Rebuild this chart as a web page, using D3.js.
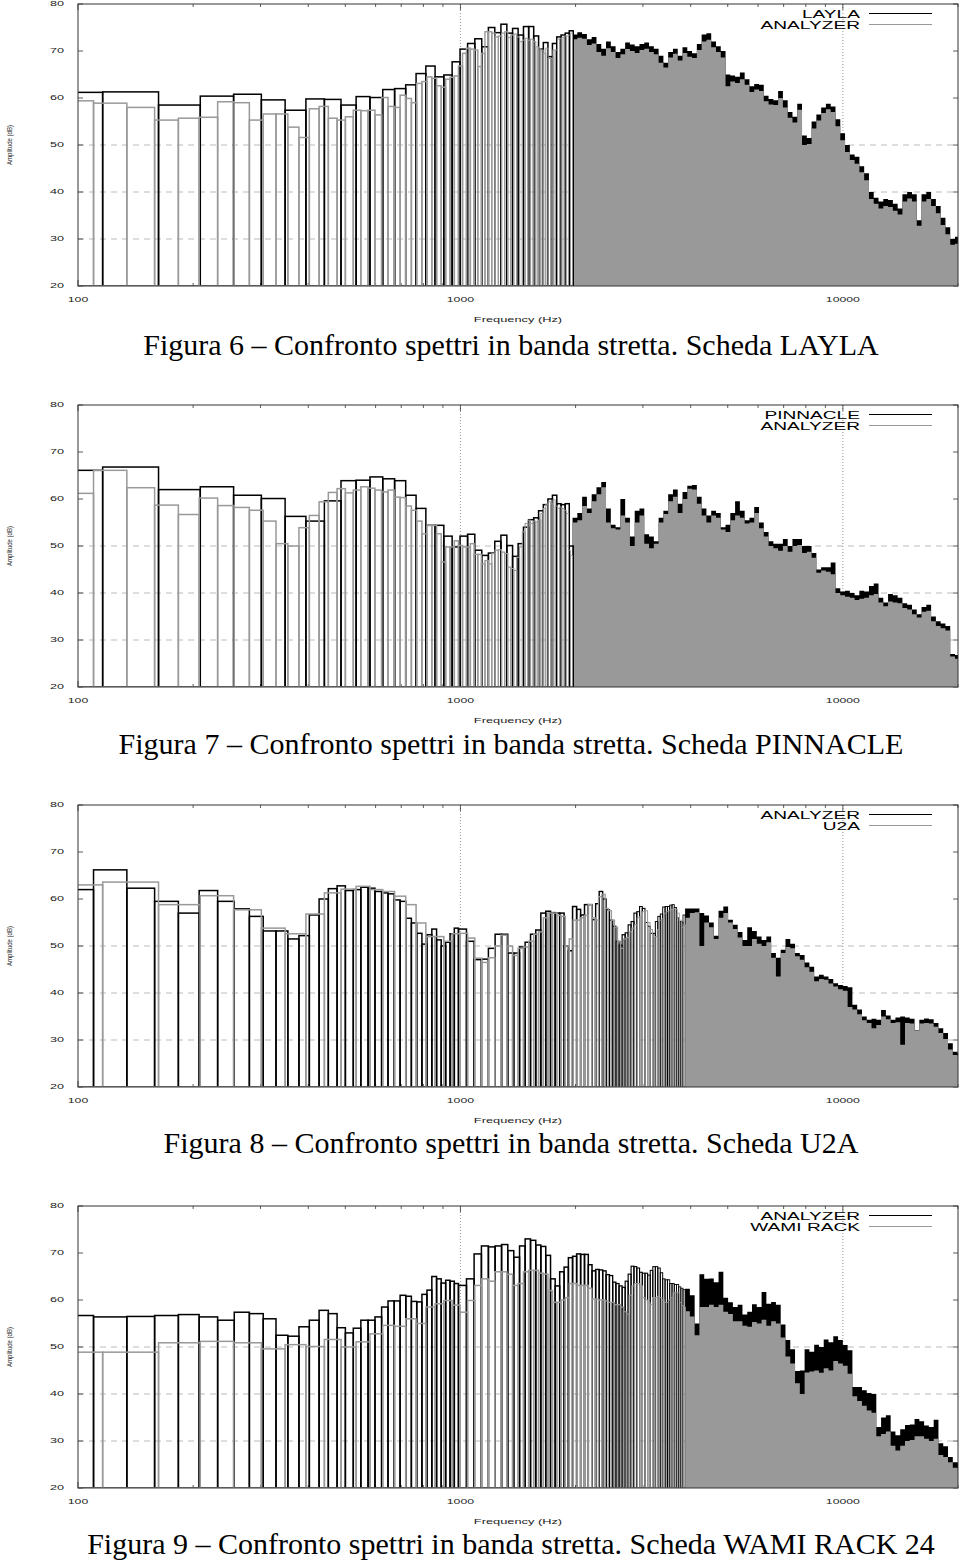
<!DOCTYPE html>
<html>
<head>
<meta charset="utf-8">
<script src="https://cdnjs.cloudflare.com/ajax/libs/d3/7.8.5/d3.min.js"></script>
<style>
body { margin: 0; background: #fff; }
svg { display: block; }
</style>
</head>
<body>
<svg id="chart" width="960" height="1564"></svg>
<script>
// ---------- axes / labels
var FREQ_DOMAIN = [100, 20000];
var DB_DOMAIN = [20, 80];
var FREQ_LABELS = [100, 1000, 10000];
var DB_LABELS = [20, 30, 40, 50, 60, 70, 80];
var DB_GRID = [30, 40, 50];
var FREQ_GRID = [1000, 10000];

var CAPTIONS = [
  "Figura 6 \u2013 Confronto spettri in banda stretta. Scheda LAYLA",
  "Figura 7 \u2013 Confronto spettri in banda stretta. Scheda PINNACLE",
  "Figura 8 \u2013 Confronto spettri in banda stretta. Scheda U2A",
  "Figura 9 \u2013 Confronto spettri in banda stretta. Scheda WAMI RACK 24"
];
var LEGENDS = [
  ["LAYLA", "ANALYZER"],
  ["PINNACLE", "ANALYZER"],
  ["ANALYZER", "U2A"],
  ["ANALYZER", "WAMI RACK"]
];

// ---------- frequency grids (Hz)
var CARD_F0 = 69.6, CARD_BIN = 46.4;     // sound card FFT boxes
var ANA_F0 = 85.4, ANA_BIN = 24.4;       // analyzer boxes
var ANA_F1 = 988.2, ANA_BIN1 = 48.8;     // analyzer boxes above 1 kHz (fig 8, 9)
var HI_A = 1964.2, HI_B = 3867.4;        // start of the dense band
var HI_STEP = 0.0125;                    // decades per dense sample

// ---------- Figura 6 (LAYLA black, ANALYZER gray), dB
var layla_lo = [61.2,61.3,58.5,60.4,60.8,59.6,57.4,59.8,59.7,58.5,60.3,60.1,61.8,62.0,62.8,65.2,66.8,64.5,64.9,67.7,
  70.4,71.6,72.6,70.9,75.0,73.9,75.7,73.8,74.8,73.4,75.2,75.2,73.2,70.4,71.8,68.8,71.6,73.0,73.4,73.8,74.3];
var ana6_lo = [59.4,58.9,58.0,55.3,55.7,55.9,59.2,59.0,55.3,56.6,56.6,53.8,51.6,57.7,58.2,
  55.7,55.3,56.0,57.4,57.3,57.4,56.4,60.1,58.2,58.0,60.6,59.9,59.0,63.1,63.5,64.5,64.2,62.6,62.3,64.0,64.4,64.7,
  66.8,69.5,70.6,70.4,70.2,66.7,69.5,74.1,74.1,73.8,73.0,73.2,73.8,74.1,72.9,73.4,73.6,73.0,72.0,72.3,72.7,72.3,
  72.5,72.0,70.9,70.4,70.2,69.5,70.6,68.4,68.4,70.2,70.2,72.5,72.7,72.9,73.2,73.2,73.4,73.8];
var layla_hi = [73.5,74.0,73.6,72.5,73.0,71.5,70.5,72.0,71.0,69.8,
  70.5,71.8,71.4,71.0,71.5,71.8,71.0,70.5,69.0,67.5,
  69.8,70.5,69.0,70.8,70.0,69.5,71.5,73.5,73.8,72.0,
  71.0,70.0,65.0,64.8,64.5,65.4,64.0,62.5,63.0,62.8,
  60.5,59.8,59.5,61.5,59.5,57.0,56.0,58.8,52.0,51.5,
  55.0,56.5,58.0,58.8,58.2,55.5,52.5,50.0,48.0,47.5,
  45.5,44.0,40.0,38.8,38.0,38.5,38.3,37.5,36.5,39.5,
  40.0,39.5,34.0,39.5,40.0,38.5,37.0,34.5,32.5,30.0,30.5];
var ana6_hi = [72.5,72.8,72.6,71.3,71.6,69.8,69.0,70.6,69.8,68.5,
  69.3,70.4,70.0,69.6,70.2,70.5,69.8,69.3,67.5,66.5,
  68.6,69.4,68.0,69.6,68.8,68.5,70.2,72.0,72.4,70.8,
  69.8,68.6,62.5,63.5,63.2,64.0,62.8,61.3,61.8,61.5,
  59.3,58.6,58.5,60.0,58.0,55.8,54.8,57.5,50.0,50.2,
  53.5,55.2,56.8,57.6,57.0,54.0,51.0,48.5,46.8,46.0,
  44.2,42.5,38.5,37.5,36.5,37.0,36.8,36.0,35.2,38.0,
  38.6,38.0,32.8,38.0,38.5,37.0,35.5,33.0,31.0,28.8,29.0];

// ---------- Figura 7 (PINNACLE black, ANALYZER gray)
var pinnacle_lo = [66.1,66.8,62.0,62.6,60.8,60.1,56.3,55.3,59.6,63.9,64.0,64.7,64.3,63.9,60.8,58.0,54.4,54.4,52.1,49.8,
  52.1,52.5,49.1,48.0,48.5,51.0,52.3,50.1,47.8,50.5,54.0,55.6,56.0,57.5,58.8,60.0,60.8,59.0,58.8,59.0,50.0];
var ana7_lo = [61.2,66.1,62.4,58.7,56.7,60.2,58.6,58.2,57.6,55.3,50.5,50.0,53.9,56.5,59.4,61.4,62.2,61.3,61.9,62.6,
  62.3,61.9,61.5,61.9,60.4,60.3,58.5,57.6,55.3,52.6,54.4,54.4,52.6,46.6,49.8,49.8,51.1,50.1,49.8,49.8,
  50.5,48.2,48.2,46.2,46.9,46.2,48.4,49.1,49.2,48.7,48.4,45.5,45.2,44.8,47.6,49.8,53.0,54.8,55.5,54.8,
  55.3,55.1,55.5,56.9,58.0,58.9,59.4,59.0,59.8,58.5,58.0,58.3,58.0,57.6,56.9,49.1,48.0];
var pinnacle_hi = [56.0,57.0,60.5,58.0,61.0,62.5,63.6,58.0,54.5,54.0,
  60.0,56.0,52.0,57.5,58.0,52.5,52.0,51.0,56.0,57.5,
  61.0,62.0,59.0,61.5,62.8,63.0,60.5,58.0,56.5,57.5,
  57.0,54.0,54.5,57.0,59.5,57.5,55.5,56.0,58.3,55.0,
  53.0,51.0,50.5,50.5,51.5,50.0,51.5,51.5,50.0,50.0,
  48.5,45.0,45.5,45.5,46.5,41.0,40.3,40.5,40.0,39.5,
  40.5,40.3,41.5,42.0,39.0,38.0,39.8,39.5,39.0,37.8,
  37.5,36.5,35.5,37.0,37.5,35.0,34.0,33.5,33.0,27.0,26.8];
var ana7_hi = [55.0,55.5,58.5,57.0,59.5,61.0,62.5,55.0,53.8,53.5,
  56.5,55.0,50.0,55.0,56.5,50.5,49.5,50.5,55.0,56.8,
  59.5,60.5,57.0,60.0,62.2,62.0,59.0,56.5,55.0,56.5,
  56.0,53.5,53.0,55.5,56.5,56.0,54.8,55.0,57.0,53.8,
  52.0,50.0,49.5,49.0,50.0,48.8,50.0,50.2,48.5,48.8,
  47.5,44.3,44.8,44.5,44.0,40.0,39.5,39.2,39.0,38.5,
  38.8,39.0,39.5,39.8,38.0,37.2,38.2,38.0,37.8,36.8,
  36.5,35.5,34.8,36.0,36.2,34.0,33.0,32.5,32.0,26.5,26.0];

// ---------- Figura 8 (ANALYZER black, U2A gray)
var ana8_lo = [62.0,66.2,62.3,59.5,57.0,61.8,59.5,57.9,56.3,53.2,53.2,51.5,52.2,56.6,60.0,62.2,62.8,61.8,62.0,62.5,
  62.3,61.6,61.3,61.1,59.8,59.5,55.9,54.9,52.7,50.4,52.4,53.6,51.3,50.0,50.8,52.6,53.8];
var ana8_mid = [53.6,51.0,47.1,47.2,49.5,52.5,52.5,48.5,48.5,49.8,50.8,52.5,53.4,57.0,57.4,57.1,57.0,57.0,50.0,49.0,
  58.4,57.8,56.6,58.8,58.8,55.6,59.0,61.6,60.0,57.7,55.5,54.2,51.0,50.2,52.4,52.8,54.5,55.2,57.0,57.3,
  58.4,58.0,55.0,54.2,52.7,52.7,55.2,56.3,56.8,58.3,58.4,58.4,58.7,58.8,58.2,56.0,55.2,55.1,56.6];
var u2a_lo = [63.0,63.6,58.8,60.7,57.7,53.8,52.6,56.8,61.3,62.1,62.7,62.0,61.6,60.6,58.8,54.9,52.0,52.0,51.0,52.6,
  52.7,51.7,47.4,46.5,47.5,50.0,52.3,50.0,48.0,49.5,49.8,51.0,52.5,53.0,56.0,57.0,57.0,56.5,56.3,50.0,
  51.5,55.5,55.5,56.0,56.5,58.8,56.0,55.5,60.5,61.0,58.0,57.5,55.5,54.0,51.0,49.5,51.5,51.8,53.0,53.8,
  54.5,56.0,56.3,57.3,57.5,55.0,53.5,52.0,52.0,53.5,55.5,55.8,57.0,57.3,57.5,57.8,58.0,57.8,57.0,55.5,
  54.0,54.5];
var ana8_hi = [58.0,58.0,58.0,57.0,56.5,55.0,52.2,57.5,58.4,55.6,
  54.5,53.0,51.3,54.0,53.2,52.0,51.3,52.0,48.5,47.5,
  49.2,51.5,50.5,48.5,48.1,46.5,45.6,43.5,43.9,43.5,
  43.0,42.1,41.7,41.5,41.2,37.5,36.5,35.0,34.3,34.5,
  34.3,36.4,35.2,34.3,34.8,35.0,34.8,34.5,32.1,34.3,
  34.6,34.4,33.6,32.5,31.5,29.3,27.5,27.2];
var u2a_hi = [56.0,57.0,57.2,50.0,55.0,54.0,51.5,56.0,57.0,55.0,
  53.6,51.8,50.0,50.0,51.5,50.5,50.0,50.8,47.5,43.5,
  48.5,49.8,49.5,47.8,47.1,45.5,44.5,42.5,43.0,42.8,
  42.0,41.4,40.8,40.5,37.0,36.5,35.5,34.2,33.6,32.5,
  33.2,35.0,34.4,33.6,33.8,29.0,33.6,33.5,32.0,33.5,
  33.6,33.5,32.8,31.5,30.2,28.0,26.8,26.5];

// ---------- Figura 9 (ANALYZER black, WAMI RACK gray)
var ana9_lo = [56.7,56.4,56.5,56.7,56.9,56.4,55.7,57.4,57.1,56.0,52.5,52.3,54.3,55.7,57.8,57.1,54.1,53.0,54.0,55.7,
  55.7,56.4,58.5,59.8,59.8,61.0,60.8,59.7,59.6,61.2,62.1,65.0,64.5,63.6,64.2,64.0,63.5];
var ana9_mid = [63.1,64.5,69.8,71.5,71.3,71.5,71.8,70.5,69.1,71.5,73.0,72.7,71.7,71.4,69.5,64.5,63.0,66.0,67.0,69.0,
  69.3,69.8,69.7,69.7,67.5,66.2,66.5,66.4,66.2,65.4,65.2,63.8,63.5,63.0,62.7,64.0,65.5,67.2,67.1,66.8,
  65.9,65.7,65.7,65.3,66.3,67.1,67.1,66.8,65.8,64.5,64.3,64.3,63.5,63.5,63.3,63.3,62.8,62.5,62.2];
var wami_lo = [48.9,48.9,50.9,51.2,50.9,49.6,50.5,50.1,51.6,50.0,51.1,52.8,54.6,54.4,56.0,55.0,58.5,59.2,59.9,58.9,
  57.4,59.9,63.1,64.5,64.0,66.0,66.0,65.5,63.1,63.5,66.0,66.3,66.3,65.7,65.5,62.0,59.5,59.5,60.0,60.5,
  63.5,63.5,63.1,63.1,63.1,62.5,60.2,60.2,60.0,60.0,59.8,59.5,59.5,59.0,59.0,58.5,57.5,57.0,61.0,63.0,
  63.5,63.5,63.0,60.5,60.0,59.5,59.0,60.5,60.5,60.8,60.5,60.0,59.5,59.5,60.0,60.5,61.5,61.7,61.5,59.5,
  58.8,58.5];
var ana9_hi = [62.4,61.0,55.0,65.5,64.5,64.6,63.8,66.0,60.5,59.5,
  58.5,59.0,56.9,57.5,59.1,58.5,61.7,59.2,59.6,59.0,
  54.8,51.5,49.5,44.9,45.0,49.5,49.0,50.5,50.0,51.6,
  51.0,52.3,51.5,50.4,49.3,41.5,41.5,40.8,40.2,40.0,
  33.0,35.0,35.5,32.0,31.2,32.5,33.4,33.5,34.7,34.2,
  33.3,33.0,34.5,29.5,28.9,26.6,25.5,25.4];
var wami_hi = [57.6,56.5,52.5,58.5,58.5,59.0,58.5,59.0,57.5,57.0,
  55.5,55.5,54.5,54.3,55.3,55.0,55.8,54.5,55.5,55.0,
  52.0,48.0,46.5,42.3,40.0,44.6,44.8,45.0,44.5,45.5,
  45.0,47.0,46.5,46.0,44.3,39.5,38.5,37.5,36.5,36.0,
  31.0,31.5,32.0,29.0,28.0,29.0,30.0,30.2,31.0,31.0,
  30.5,30.0,30.5,27.0,26.6,25.5,24.3,24.0];

// each series: boxes segments [f0, width, values] + dense band [start, values]
var panels = [
  { black: { segs: [[CARD_F0, CARD_BIN, layla_lo]], hi: [HI_A, layla_hi] },
    gray:  { segs: [[ANA_F0, ANA_BIN, ana6_lo]], hi: [HI_A, ana6_hi] } },
  { black: { segs: [[CARD_F0, CARD_BIN, pinnacle_lo]], hi: [HI_A, pinnacle_hi] },
    gray:  { segs: [[ANA_F0, ANA_BIN, ana7_lo]], hi: [HI_A, ana7_hi] } },
  { black: { segs: [[ANA_F0, ANA_BIN, ana8_lo], [ANA_F1, ANA_BIN1, ana8_mid]], hi: [HI_B, ana8_hi] },
    gray:  { segs: [[CARD_F0, CARD_BIN, u2a_lo]], hi: [HI_B, u2a_hi] } },
  { black: { segs: [[ANA_F0, ANA_BIN, ana9_lo], [ANA_F1, ANA_BIN1, ana9_mid]], hi: [HI_B, ana9_hi] },
    gray:  { segs: [[CARD_F0, CARD_BIN, wami_lo]], hi: [HI_B, wami_hi] } }
];

// ---------- layout
var svg = d3.select("#chart");
var LEFT = 78, RIGHT = 958, PH = 282;
var TOPS = [4, 405, 805, 1206];
var CAP_Y = [355, 754, 1153, 1554];
var BLACK = "#000", GRAY = "#999";
var SANS = "'Liberation Sans', Arial, sans-serif";

// gnuplot-ish stretched labels
function stretch(sel, k) {
  sel.each(function () {
    var w = this.getComputedTextLength();
    d3.select(this).attr("textLength", w * k).attr("lengthAdjust", "spacingAndGlyphs");
  });
}

function toBoxes(segs) {
  var out = [];
  segs.forEach(function (s) {
    s[2].forEach(function (v, i) {
      out.push({ f1: s[0] + i * s[1], f2: s[0] + (i + 1) * s[1], v: v });
    });
  });
  return out;
}

function toBand(hi) {
  var start = hi[0], vals = hi[1];
  var pts = vals.map(function (v, i) { return { f: start * Math.pow(10, i * HI_STEP), v: v }; });
  pts.push({ f: start * Math.pow(10, vals.length * HI_STEP), v: vals[vals.length - 1] });
  return pts;
}

panels.forEach(function (p, pi) {
  var top = TOPS[pi], bottom = top + PH;
  var x = d3.scaleLog().domain(FREQ_DOMAIN).range([LEFT, RIGHT]);
  var y = d3.scaleLinear().domain(DB_DOMAIN).range([bottom, top]);
  var g = svg.append("g");

  g.append("clipPath").attr("id", "clip" + pi)
    .append("rect").attr("x", LEFT).attr("y", top).attr("width", RIGHT - LEFT).attr("height", PH);

  // grid
  g.selectAll(".hgrid").data(DB_GRID).join("line")
    .attr("x1", LEFT).attr("x2", RIGHT)
    .attr("y1", function (d) { return y(d); }).attr("y2", function (d) { return y(d); })
    .attr("stroke", "#bbb").attr("stroke-width", 1).attr("stroke-dasharray", "6,5");
  g.selectAll(".vgrid").data(FREQ_GRID).join("line")
    .attr("x1", function (d) { return x(d); }).attr("x2", function (d) { return x(d); })
    .attr("y1", top).attr("y2", bottom)
    .attr("stroke", "#999").attr("stroke-width", 1).attr("stroke-dasharray", "1,2");

  // ticks (inward)
  var minor = x.ticks().filter(function (d) { return d >= 100 && d <= 20000; });
  minor.forEach(function (d) {
    var len = FREQ_LABELS.indexOf(d) >= 0 ? 6 : 3;
    g.append("line").attr("x1", x(d)).attr("x2", x(d)).attr("y1", top).attr("y2", top + len)
      .attr("stroke", "#333").attr("stroke-width", 0.8);
    g.append("line").attr("x1", x(d)).attr("x2", x(d)).attr("y1", bottom).attr("y2", bottom - len)
      .attr("stroke", "#333").attr("stroke-width", 0.8);
  });
  DB_LABELS.forEach(function (d) {
    g.append("line").attr("x1", LEFT).attr("x2", LEFT + 5).attr("y1", y(d)).attr("y2", y(d))
      .attr("stroke", "#333").attr("stroke-width", 0.8);
    g.append("line").attr("x1", RIGHT).attr("x2", RIGHT - 5).attr("y1", y(d)).attr("y2", y(d))
      .attr("stroke", "#333").attr("stroke-width", 0.8);
  });

  var data = g.append("g").attr("clip-path", "url(#clip" + pi + ")");

  // dense band: first series then second on top
  var area = d3.area()
    .x(function (d) { return x(d.f); })
    .y0(bottom)
    .y1(function (d) { return y(d.v); })
    .curve(d3.curveStepAfter);
  data.append("path").datum(toBand(p.black.hi)).attr("d", area).attr("fill", BLACK);
  data.append("path").datum(toBand(p.gray.hi)).attr("d", area).attr("fill", GRAY);

  // boxes
  function drawBoxes(series, color) {
    data.append("g").selectAll("rect").data(toBoxes(series.segs)).join("rect")
      .attr("x", function (d) { return x(d.f1); })
      .attr("y", function (d) { return y(d.v); })
      .attr("width", function (d) { return x(d.f2) - x(d.f1); })
      .attr("height", function (d) { return bottom - y(d.v); })
      .attr("fill", "none")
      .attr("stroke", color)
      .attr("stroke-width", function (d) {
        var w = x(d.f2) - x(d.f1);
        return Math.max(0.6, Math.min(1.5, w * 0.4));
      });
  }
  drawBoxes(p.black, BLACK);
  drawBoxes(p.gray, GRAY);

  // frame
  g.append("rect").attr("x", LEFT).attr("y", top).attr("width", RIGHT - LEFT).attr("height", PH)
    .attr("fill", "none").attr("stroke", "#333").attr("stroke-width", 1);

  // tick labels
  g.selectAll(".yl").data(DB_LABELS).join("text")
    .attr("x", 64).attr("y", function (d) { return y(d); }).attr("dy", "0.35em")
    .attr("text-anchor", "end").attr("font-family", SANS).attr("font-size", 7).attr("fill", "#222")
    .text(function (d) { return d; })
    .call(stretch, 1.8);
  g.selectAll(".xl").data(FREQ_LABELS).join("text")
    .attr("x", function (d) { return x(d); }).attr("y", bottom + 16)
    .attr("text-anchor", "middle").attr("font-family", SANS).attr("font-size", 7).attr("fill", "#222")
    .text(function (d) { return d; })
    .call(stretch, 1.75);

  // axis titles
  g.append("text").attr("x", 518).attr("y", bottom + 36).attr("text-anchor", "middle")
    .attr("font-family", SANS).attr("font-size", 7).attr("fill", "#222")
    .text("Frequency (Hz)").call(stretch, 1.83);
  g.append("text").attr("transform", "translate(12," + ((top + bottom) / 2) + ") rotate(-90)")
    .attr("text-anchor", "middle").attr("font-family", SANS).attr("font-size", 8).attr("fill", "#222")
    .attr("textLength", 40).attr("lengthAdjust", "spacingAndGlyphs")
    .text("Amplitude (dB)");

  // legend
  LEGENDS[pi].forEach(function (name, li) {
    var ty = top + 14 + li * 11;
    g.append("text").attr("x", 860).attr("y", ty).attr("text-anchor", "end")
      .attr("font-family", SANS).attr("font-size", 10.5).attr("fill", "#000")
      .text(name).call(stretch, 1.82);
    g.append("line").attr("x1", 869).attr("x2", 932).attr("y1", ty - 4.5).attr("y2", ty - 4.5)
      .attr("stroke", li === 0 ? BLACK : GRAY).attr("stroke-width", 1);
  });

  // caption
  svg.append("text").attr("x", 511).attr("y", CAP_Y[pi]).attr("text-anchor", "middle")
    .attr("font-family", "'Liberation Serif', 'Times New Roman', serif").attr("font-size", 30)
    .attr("fill", "#000").text(CAPTIONS[pi]);
});
</script>
</body>
</html>
